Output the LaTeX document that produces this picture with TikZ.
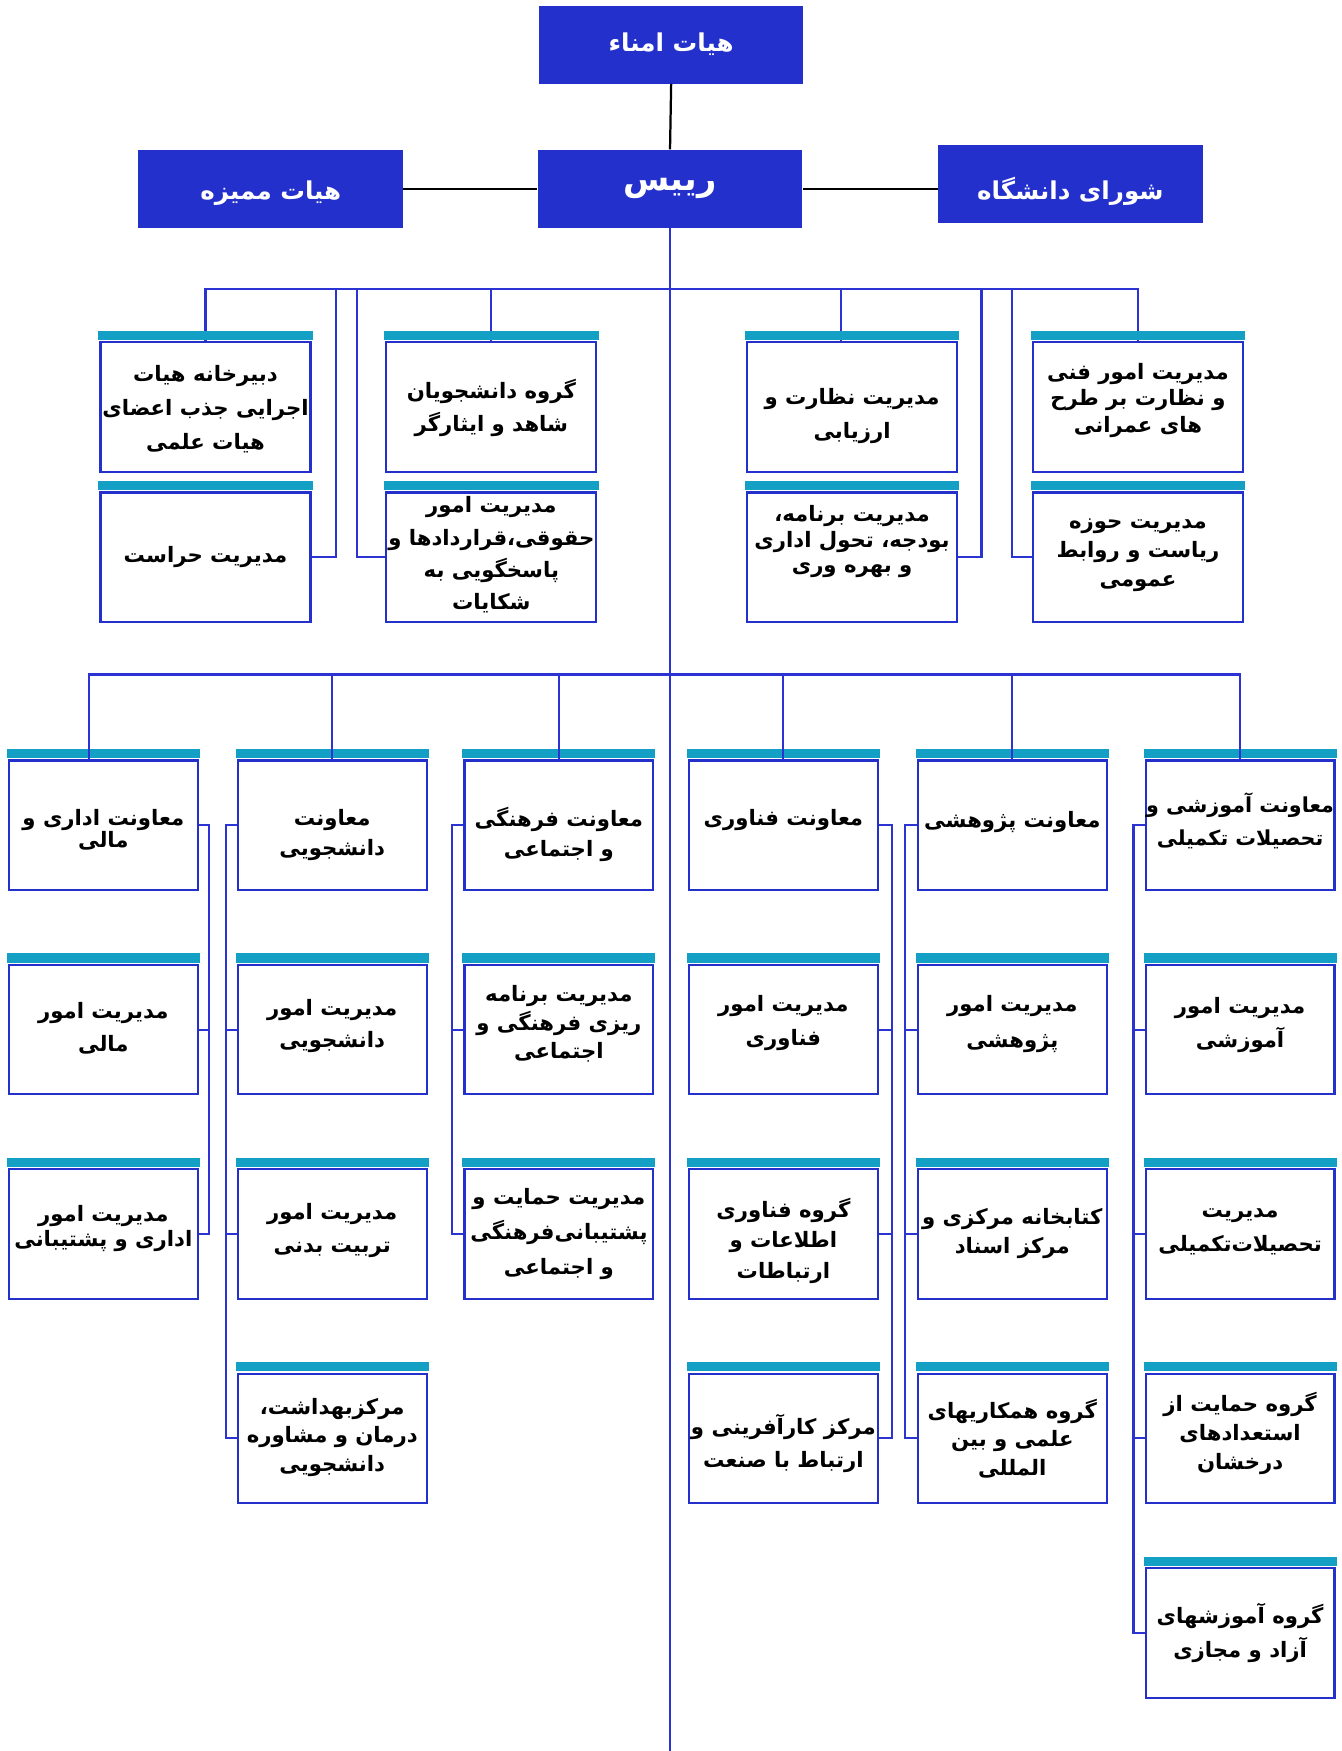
\documentclass[tikz,border=0pt]{standalone}
\usepackage{fontspec}
\TeXXeTstate=1
\newfontfamily\arabicfont[Script=Arabic]{DejaVu Sans}
\newcommand\fa[1]{\beginR #1\endR}
\definecolor{boxblue}{HTML}{2330CC}
\definecolor{linkblue}{HTML}{2B33D3}
\definecolor{hdrteal}{HTML}{14A0C4}
\tikzset{
 topbox/.style={fill=boxblue, draw=none, text=white, font=\arabicfont\bfseries\fontsize{22}{28}\selectfont, minimum width=237, minimum height=70, inner sep=0pt},
 toptxt/.style={text=white, inner sep=0pt, font=\arabicfont\bfseries\fontsize{22}{28}\selectfont},
 ubox/.style={draw=boxblue, line width=1.9pt, fill=white, minimum width=188, minimum height=116, inner sep=0pt},
 lbox/.style={ubox, minimum width=169, minimum height=116},
 txt/.style={align=center, text=black, inner sep=0pt},
 link/.style={draw=linkblue, line width=1.9pt},
 blk/.style={draw=black, line width=2pt},
}
% #1 style, #2 name, #3 position, #4 yshift of text, #5 baselineskip, #6 text
\newcommand\ob[6]{%
  \node[#1] (#2) at #3 {};
  \node[txt, font=\arabicfont\bfseries\fontsize{19}{#5}\selectfont] (#2t) at ([yshift=#4]#2.center) {#6};}
\begin{document}
\begin{tikzpicture}[x=1pt,y=-1pt]
\useasboundingbox[fill=white] (0,0) rectangle (1201,1568);
% top level
\node[topbox] (amana) at (601,40) {\fa{هیات امناء}};
\node[topbox, font=\arabicfont\bfseries\fontsize{30}{34}\selectfont] (rais) at (600,169) {\fa{رییس}};
\node[topbox] (momayez) at (242.5,169) {};
\node[toptxt] (momayezt) at ([yshift=-4pt]momayez.center) {\fa{هیات ممیزه}};
\node[topbox] (shora) at (958.5,164.5) {};
\node[toptxt] (shorat) at ([yshift=-7pt]shora.center) {\fa{شورای دانشگاه}};
\draw[blk] (amana.south) -- (rais.north);
\draw[blk] (momayez.east) -- (rais.west);
\draw[blk] (rais.east) -- (shora.west |- rais.east);
\coordinate (bus1) at (600,259);
\coordinate (bus2) at (600,604);
\coordinate (trunkend) at (600,1568);
\draw[link] (rais.south) -- (trunkend);
% upper staff units
\ob{ubox}{ua1}{(184,364.5)}{-2pt}{30.5}{\fa{دبیرخانه هیات}\\\fa{اجرایی جذب اعضای}\\\fa{هیات علمی}}
\ob{ubox}{ua2}{(184,499)}{0pt}{30}{\fa{مدیریت حراست}}
\ob{ubox}{ub1}{(440,364.5)}{-1pt}{30}{\fa{گروه دانشجویان}\\\fa{شاهد و ایثارگر}}
\ob{ubox}{ub2}{(440,499)}{2pt}{29}{\fa{مدیریت امور}\\\fa{حقوقی،قراردادها و}\\\fa{پاسخگویی به}\\\fa{شکایات}}
\ob{ubox}{uc1}{(763,364.5)}{-8pt}{31}{\fa{مدیریت نظارت و}\\\fa{ارزیابی}}
\ob{ubox}{uc2}{(763,499)}{14pt}{23}{\fa{مدیریت برنامه،}\\\fa{بودجه، تحول اداری}\\\fa{و بهره وری}}
\ob{ubox}{ud1}{(1019,364.5)}{6pt}{23.5}{\fa{مدیریت امور فنی}\\\fa{و نظارت بر طرح}\\\fa{های عمرانی}}
\ob{ubox}{ud2}{(1019,499)}{2pt}{26}{\fa{مدیریت حوزه}\\\fa{ریاست و روابط}\\\fa{عمومی}}
\draw[link] (ua1.north) -- (ua1.north |- bus1) -- (ud1.north |- bus1) -- (ud1.north);
\draw[link] (ub1.north) -- (ub1.north |- bus1);
\draw[link] ([xshift=-10pt]uc1.north) -- ([xshift=-10pt]uc1.north |- bus1);
\draw[link] (ua2.east) -- ++(22,0) |- (bus1);
\draw[link] (ub2.west) -- ++(-25,0) |- (bus1);
\draw[link] (uc2.east) -- ++(21,0) |- (bus1);
\draw[link] (ud2.west) -- ++(-18,0) |- (bus1);
% lower: column 1
\ob{lbox}{l11}{(92.5,739)}{-4pt}{20}{\fa{معاونت اداری و}\\\fa{مالی}}
\ob{lbox}{l12}{(92.5,922)}{1pt}{30}{\fa{مدیریت امور}\\\fa{مالی}}
\ob{lbox}{l13}{(92.5,1105)}{5pt}{22}{\fa{مدیریت امور}\\\fa{اداری و پشتیبانی}}
% column 2
\ob{lbox}{l21}{(297.5,739)}{-9pt}{27}{\fa{معاونت}\\\fa{دانشجویی}}
\ob{lbox}{l22}{(297.5,922)}{3pt}{29}{\fa{مدیریت امور}\\\fa{دانشجویی}}
\ob{lbox}{l23}{(297.5,1105)}{3pt}{30}{\fa{مدیریت امور}\\\fa{تربیت بدنی}}
\ob{lbox}{l24}{(297.5,1288)}{1pt}{25.5}{\fa{مرکزبهداشت،}\\\fa{درمان و مشاوره}\\\fa{دانشجویی}}
% column 3
\ob{lbox}{l31}{(500.5,739)}{-8.5pt}{27}{\fa{معاونت فرهنگی}\\\fa{و اجتماعی}}
\ob{lbox}{l32}{(500.5,922)}{5pt}{25.5}{\fa{مدیریت برنامه}\\\fa{ریزی فرهنگی و}\\\fa{اجتماعی}}
\ob{lbox}{l33}{(500.5,1105)}{0pt}{31.5}{\fa{مدیریت حمایت و}\\\fa{پشتیبانی‌فرهنگی}\\\fa{و اجتماعی}}
% column 4
\ob{lbox}{l41}{(701.5,739)}{4.5pt}{30}{\fa{معاونت فناوری}}
\ob{lbox}{l42}{(701.5,922)}{6pt}{30}{\fa{مدیریت امور}\\\fa{فناوری}}
\ob{lbox}{l43}{(701.5,1105)}{-6pt}{27.5}{\fa{گروه فناوری}\\\fa{اطلاعات و}\\\fa{ارتباطات}}
\ob{lbox}{l44}{(701.5,1288)}{-4.5pt}{30}{\fa{مرکز کارآفرینی و}\\\fa{ارتباط با صنعت}}
% column 5
\ob{lbox}{l51}{(906.5,739)}{3pt}{30}{\fa{معاونت پژوهشی}}
\ob{lbox}{l52}{(906.5,922)}{5pt}{32}{\fa{مدیریت امور}\\\fa{پژوهشی}}
\ob{lbox}{l53}{(906.5,1105)}{0pt}{26}{\fa{کتابخانه مرکزی و}\\\fa{مرکز اسناد}}
\ob{lbox}{l54}{(906.5,1288)}{0pt}{25.5}{\fa{گروه همکاریهای}\\\fa{علمی و بین}\\\fa{المللی}}
% column 6
\node[lbox] (l61) at (1110.5,739) {};
\node[txt, font=\arabicfont\bfseries\fontsize{18.5}{29}\selectfont] (l61t) at ([yshift=4pt]l61.center) {\fa{معاونت آموزشی و}\\\fa{تحصیلات تکمیلی}};
\ob{lbox}{l62}{(1110.5,922)}{4pt}{30}{\fa{مدیریت امور}\\\fa{آموزشی}}
\ob{lbox}{l63}{(1110.5,1105)}{2pt}{31}{\fa{مدیریت}\\\fa{تحصیلات‌تکمیلی}}
\ob{lbox}{l64}{(1110.5,1288)}{4pt}{26}{\fa{گروه حمایت از}\\\fa{استعدادهای}\\\fa{درخشان}}
\ob{lbox}{l65}{(1110.5,1462.5)}{0pt}{30}{\fa{گروه آموزشهای}\\\fa{آزاد و مجازی}}
% headers
\foreach \n in {ua1,ua2,ub1,ub2,uc1,uc2,ud1,ud2,l11,l12,l13,l21,l22,l23,l24,l31,l32,l33,l41,l42,l43,l44,l51,l52,l53,l54,l61,l62,l63,l64,l65}
  \fill[hdrteal] ([xshift=-1pt,yshift=0.95pt]\n.north west) rectangle ([xshift=1pt,yshift=9.5pt]\n.north east);
% lower bus
\draw[link] ([xshift=-12.5pt]l11.north) -- ([xshift=-12.5pt]l11.north |- bus2) -- (l61.north |- bus2) -- (l61.north);
\draw[link] (l21.north) -- (l21.north |- bus2);
\draw[link] (l31.north) -- (l31.north |- bus2);
\draw[link] (l41.north) -- (l41.north |- bus2);
\draw[link] (l51.north) -- (l51.north |- bus2);
% side connectors
\draw[link] (l11.east) -- ++(9,0) |- (l13.east);
\draw[link] (l12.east) -- ++(9,0);
\draw[link] (l21.west) -- ++(-10,0) |- (l24.west);
\draw[link] (l22.west) -- ++(-10,0);
\draw[link] (l23.west) -- ++(-10,0);
\draw[link] (l31.west) -- ++(-10,0) |- (l33.west);
\draw[link] (l32.west) -- ++(-10,0);
\draw[link] (l41.east) -- ++(12,0) |- (l44.east);
\draw[link] (l42.east) -- ++(12,0);
\draw[link] (l43.east) -- ++(12,0);
\draw[link] (l51.west) -- ++(-11,0) |- (l54.west);
\draw[link] (l52.west) -- ++(-11,0);
\draw[link] (l53.west) -- ++(-11,0);
\draw[link] (l61.west) -- ++(-10,0) |- (l65.west);
\draw[link] (l62.west) -- ++(-10,0);
\draw[link] (l63.west) -- ++(-10,0);
\draw[link] (l64.west) -- ++(-10,0);
\end{tikzpicture}
\end{document}
